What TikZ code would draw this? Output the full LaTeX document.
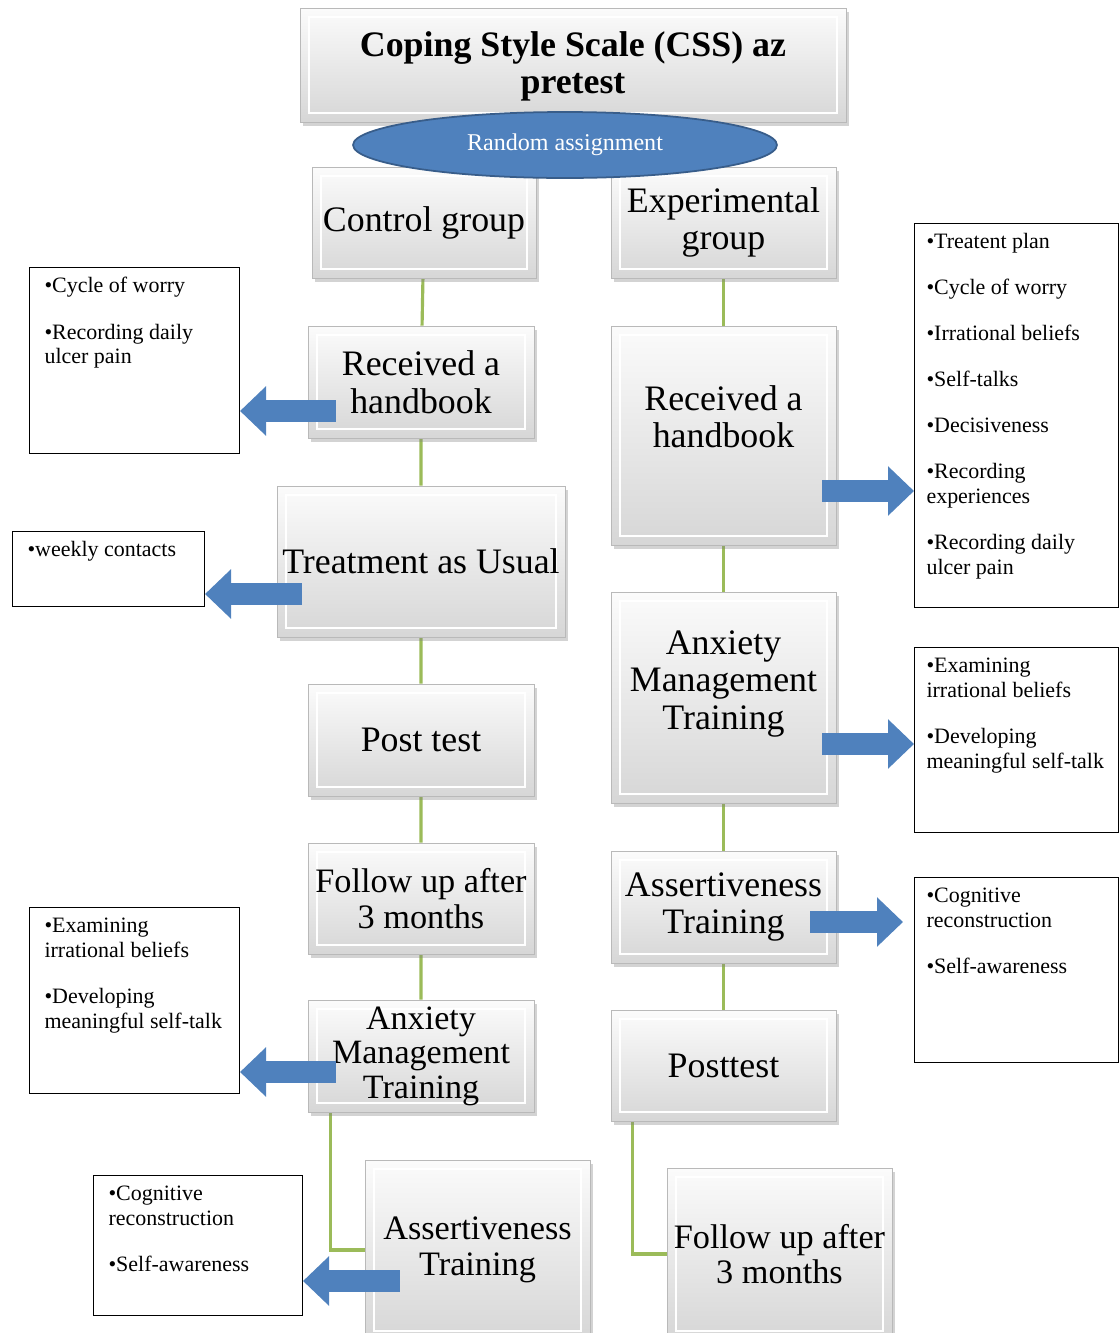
\documentclass[tikz,border=0pt]{standalone}
\usepackage{fontspec}
\setmainfont{Liberation Serif}
\usetikzlibrary{calc,shadows,arrows.meta,shapes.geometric,backgrounds}
\definecolor{offblue}{RGB}{79,129,189}
\definecolor{offblueline}{RGB}{56,93,138}
\definecolor{offgreen}{RGB}{155,187,89}
\newcommand{\boxfont}{\fontsize{20.4}{21.5}\selectfont}
\newcommand{\smallboxfont}{\fontsize{19.5}{20.2}\selectfont}
\newcommand{\notefont}{\fontsize{12.5}{14.2}\selectfont}

\begin{document}
\begin{tikzpicture}[x=0.02cm, y=-0.02cm,
  stage/.style={rectangle, minimum width=4.52cm, minimum height=2.24cm, inner sep=0pt, align=center, font=\boxfont,
    draw=gray!55, top color=gray!3, bottom color=gray!32,
    drop shadow={shadow xshift=1.5pt, shadow yshift=-2pt, opacity=0.35},
    path picture={\draw[white, line width=1.2pt] ([shift={(5pt,-5pt)}]path picture bounding box.north west) rectangle ([shift={(-5pt,5pt)}]path picture bounding box.south east);}},
  notebox/.style 2 args={draw=black, line width=0.6pt, fill=white, anchor=north west, inner xsep=0.3cm, inner ysep=0.2cm, font=\notefont,
    execute at begin node={\begin{minipage}[c][#2][t]{#1}\raggedright}, execute at end node={\end{minipage}}},
  link/.style={draw=offgreen, line width=1.8pt},
  blockarrow/.style={draw=offblue, line width=0.44cm, -{Triangle[length=0.52cm, width=0.96cm]}}
]
\useasboundingbox (0,0) rectangle (1119,1333);

% title
\node (css) [stage, minimum width=10.92cm, minimum height=2.28cm, font=\boxfont\bfseries, text depth=0.1cm] at (573,65) {Coping Style Scale (CSS) az\\pretest};

% control group
\node (ctrl) [stage, minimum width=4.48cm, minimum height=2.22cm] at (424,222.5) {Control group};
\node (hbL) [stage] at (421,382) {Received a\\handbook};
\node (tau) [stage, minimum width=5.76cm, minimum height=3.02cm] at (421,561.5) {Treatment as Usual};
\node (postL) [stage] at (421,740) {Post test};
\node (fuL) [stage, minimum height=2.22cm, font=\smallboxfont] at (421,898.5) {Follow up after\\3 months};
\node (amtL) [stage, font=\fontsize{19.4}{19.6}\selectfont] at (421,1056) {Anxiety\\Management\\Training};
\node (asL) [stage, minimum width=4.5cm, minimum height=3.6cm, font=\smallboxfont] at (477.5,1250) {Assertiveness\\Training};

% experimental group
\node (expt) [stage, minimum width=4.5cm, minimum height=2.22cm] at (723.5,222.5) {Experimental\\group};
\node (hbR) [stage, minimum width=4.5cm, minimum height=4.38cm, text depth=0.76cm] at (723.5,435.5) {Received a\\handbook};
\node (amtR) [stage, minimum width=4.5cm, minimum height=4.22cm, text depth=0.7cm] at (723.5,697.5) {Anxiety\\Management\\Training};
\node (asR) [stage, minimum width=4.5cm] at (723.5,907) {Assertiveness\\Training};
\node (postR) [stage, minimum width=4.5cm, minimum height=2.22cm] at (723.5,1065.5) {Posttest};
\node (fuR) [stage, minimum width=4.5cm, minimum height=3.44cm, font=\smallboxfont] at (779.5,1254) {Follow up after\\3 months};

\node (rand) [ellipse, fill=offblue, draw=offblueline, line width=1pt, minimum width=8.48cm, minimum height=1.32cm, inner sep=0pt,
  text=white, font=\fontsize{13.7}{15}\selectfont] at (565,145) {Random assignment};

% green links
\coordinate (amtLfoot) at ($(amtL.south west)+(23,0)$);
\coordinate (postRfoot) at ($(postR.south west)+(22,0)$);
\begin{scope}[on background layer]
\draw[link] (ctrl) -- (hbL) -- (tau) -- (postL) -- (fuL) -- (amtL);
\draw[link] (amtLfoot) |- (asL.west);
\draw[link] (expt) -- (hbR) -- (amtR) -- (asR) -- (postR);
\draw[link] (postRfoot) |- (fuR.west);
\end{scope}

% notes
\node (nL1) [notebox={3.6cm}{3.32cm}] at (29,267) {•Cycle of worry\\[12pt]•Recording daily\\ulcer pain};
\node (nL2) [notebox={3.24cm}{1.1cm}] at (12,531) {•weekly contacts};
\node (nL3) [notebox={3.6cm}{3.32cm}] at (29,907) {•Examining\\irrational beliefs\\[12pt]•Developing\\meaningful self-talk};
\node (nL4) [notebox={3.58cm}{2.4cm}] at (93,1175) {•Cognitive\\reconstruction\\[12pt]•Self-awareness};
\node (nR1) [notebox={3.6cm}{7.28cm}, inner xsep=0.24cm] at (914,223) {•Treatent plan\\[12pt]•Cycle of worry\\[12pt]•Irrational beliefs\\[12pt]•Self-talks\\[12pt]•Decisiveness\\[12pt]•Recording\\experiences\\[12pt]•Recording daily\\ulcer pain};
\node (nR2) [notebox={3.6cm}{3.3cm}, inner xsep=0.24cm] at (914,647) {•Examining\\irrational beliefs\\[12pt]•Developing\\meaningful self-talk};
\node (nR3) [notebox={3.6cm}{3.3cm}, inner xsep=0.24cm] at (914,877) {•Cognitive\\reconstruction\\[12pt]•Self-awareness};

% blue arrows
\coordinate (t1) at ($(hbL.west)+(28,29)$);
\coordinate (t2) at ($(tau.west)+(25,32.5)$);
\coordinate (t3) at ($(amtL.west)+(28,16)$);
\coordinate (t4) at ($(asL.west)+(35,31)$);
\coordinate (t5) at ($(hbR.east)+(-14,55.5)$);
\coordinate (t6) at ($(amtR.east)+(-14,46.5)$);
\coordinate (t7) at ($(asR.east)+(-26,15)$);
\draw[blockarrow] (t1) -- (t1 -| nL1.east);
\draw[blockarrow] (t2) -- (t2 -| nL2.east);
\draw[blockarrow] (t3) -- (t3 -| nL3.east);
\draw[blockarrow] (t4) -- (t4 -| nL4.east);
\draw[blockarrow] (t5) -- (t5 -| nR1.west);
\draw[blockarrow] (t6) -- (t6 -| nR2.west);
\draw[blockarrow, shorten >=0.22cm] (t7) -- (t7 -| nR3.west);

\end{tikzpicture}
\end{document}
